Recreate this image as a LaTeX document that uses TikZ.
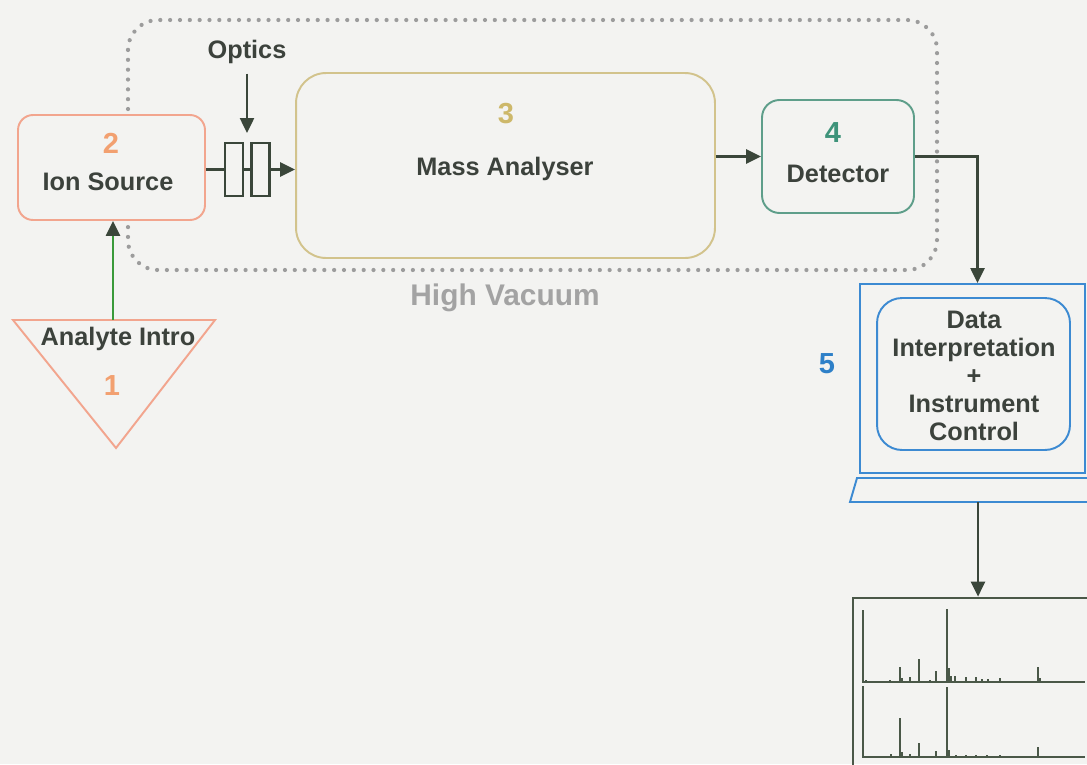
\documentclass[tikz,border=0pt]{standalone}
\usepackage{fontspec}
\setmainfont{Liberation Sans}
\usetikzlibrary{arrows.meta}
\definecolor{bgcol}{HTML}{F3F3F1}
\definecolor{salmon}{HTML}{F2A58E}
\definecolor{numorange}{HTML}{F2A070}
\definecolor{khaki}{HTML}{D2C38C}
\definecolor{numkhaki}{HTML}{CDB86A}
\definecolor{teal}{HTML}{5E9E8A}
\definecolor{numteal}{HTML}{3E937A}
\definecolor{monblue}{HTML}{3C8AD2}
\definecolor{numblue}{HTML}{2E80C8}
\definecolor{vacgray}{HTML}{9C9C9C}
\definecolor{hvgray}{HTML}{A3A3A3}
\definecolor{textcol}{HTML}{3C423C}
\definecolor{linecol}{HTML}{3A463A}
\definecolor{greenline}{HTML}{3A9A3A}
\definecolor{speccol}{HTML}{4A5848}
\tikzset{
  box/.style = {draw, line width=1.1pt, fill=bgcol, inner sep=0pt},
  conn/.style = {draw=linecol, line width=1.2pt, -{Triangle[length=8.5pt,width=8pt]}},
  plain/.style = {draw=linecol, line width=1.2pt},
  lbl/.style = {font=\fontsize{14.4}{15.9}\selectfont\bfseries, text=textcol, inner sep=0pt, anchor=base},
  num/.style = {font=\fontsize{16.5}{16.5}\selectfont\bfseries, inner sep=0pt, anchor=base},
  plate/.style = {draw=linecol, line width=1.2pt, fill=bgcol, minimum width=0.36cm, minimum height=1.06cm, inner sep=0pt}
}
\begin{document}
\begin{tikzpicture}[x=0.02cm, y=-0.02cm]
\useasboundingbox (0,0) rectangle (1087,764);
\clip (0,0) rectangle (1087,764);
\fill[bgcol] (0,0) rectangle (1087,764);

% high vacuum region
\draw[vacgray, line width=2.4pt, line cap=round, dash pattern=on 0pt off 5.6pt, rounded corners=0.6cm] (128,20) rectangle (937,270);
\node[font=\fontsize{17}{17}\selectfont\bfseries, text=hvgray, inner sep=0pt, anchor=base] (hv) at (505,305) {High Vacuum};

% analyte intro
\draw[salmon, line width=1.1pt, fill=bgcol] (13,320) -- (215,320) -- (116,448) -- cycle;
\coordinate (tri) at (113,320);
\node[lbl] (intro) at (118,345) {Analyte Intro};
\node[num, text=numorange] (n1) at (112,395) {1};

% ion source
\node[box, draw=salmon, rounded corners=0.3cm, minimum width=3.74cm, minimum height=2.1cm] (ion) at (111.5,167.5) {};
\node[num, text=numorange] (n2) at (111,153) {2};
\node[lbl] (iontext) at (108,190) {Ion Source};

% optics
\node[plate] (plate1) at (234,169.5) {};
\node[plate] (plate2) at (260.5,169.5) {};
\node[lbl] (optics) at (247,58) {Optics};
\coordinate (optin) at (247,133);

% mass analyser
\node[box, draw=khaki, rounded corners=0.6cm, minimum width=8.38cm, minimum height=3.7cm] (ma) at (505.5,165.5) {};
\node[num, text=numkhaki] (n3) at (506,123) {3};
\node[lbl] (matext) at (505,175) {Mass Analyser};

% detector
\node[box, draw=teal, rounded corners=0.35cm, minimum width=3.04cm, minimum height=2.26cm] (det) at (838,156.5) {};
\node[num, text=numteal] (n4) at (833,142) {4};
\node[lbl] (dettext) at (838,182) {Detector};

% computer
\node[box, draw=monblue, minimum width=4.5cm, minimum height=3.78cm] (mon) at (972.5,378.5) {};
\node[box, draw=monblue, rounded corners=0.5cm, minimum width=3.86cm, minimum height=3.04cm] (screen) at (973.5,374) {};
\node[font=\fontsize{14.4}{15.9}\selectfont\bfseries, text=textcol, align=center, inner sep=0pt] (datatext) at (974,376) {Data\\Interpretation\\+\\Instrument\\Control};
\node[num, text=numblue] (n5) at (827,373) {5};
\draw[monblue, line width=1.1pt, fill=bgcol] (857,478) -- (850,502) -- (1100,502) -- (1093,478) -- cycle;
\coordinate (base) at (978,502);

% spectra
\node[draw=speccol, line width=1.6pt, minimum width=5cm, minimum height=3.7cm, inner sep=0pt] (spec) at (978,690.5) {};
\draw[speccol, line width=0.9pt] (863,610) -- (863,682) -- (1085,682);
\draw[speccol, line width=0.7pt] (866,682) -- (866,680) (890,682) -- (890,680) (900,682) -- (900,667) (902,682) -- (902,678) (910,682) -- (910,677) (919,682) -- (919,659) (930,682) -- (930,680) (936,682) -- (936,671) (947,682) -- (947,609) (949,682) -- (949,668) (951,682) -- (951,676) (955,682) -- (955,676) (966,682) -- (966,677) (976,682) -- (976,677) (982,682) -- (982,679) (988,682) -- (988,679) (1000,682) -- (1000,678) (1038,682) -- (1038,667) (1040,682) -- (1040,678);
\draw[speccol, line width=0.9pt] (863,686) -- (863,757) -- (1085,757);
\draw[speccol, line width=0.7pt] (891,757) -- (891,754) (900,757) -- (900,718) (902,757) -- (902,752) (910,757) -- (910,754) (919,757) -- (919,743) (936,757) -- (936,751) (947,757) -- (947,687) (949,757) -- (949,750) (956,757) -- (956,755) (966,757) -- (966,755) (976,757) -- (976,755) (987,757) -- (987,755) (1000,757) -- (1000,755) (1038,757) -- (1038,747);

% connectors
\draw[greenline, line width=1.2pt, -{Triangle[length=8.5pt,width=8pt,color=linecol]}] (tri) -- (tri |- ion.south);
\draw[plain] (plate1.west -| ion.east) -- (plate1.west);
\draw[plain] (plate1.east) -- (plate2.west);
\draw[conn] (plate2.east) -- (plate2.east -| ma.west);
\draw[conn] ([yshift=-0.2cm]optics.south) -- (optin);
\draw[conn] (det.west -| ma.east) -- (det.west);
\draw[conn] (det.east) -| ([xshift=0.1cm]mon.north);
\draw[conn] (base) -- (spec.north);
\end{tikzpicture}
\end{document}
